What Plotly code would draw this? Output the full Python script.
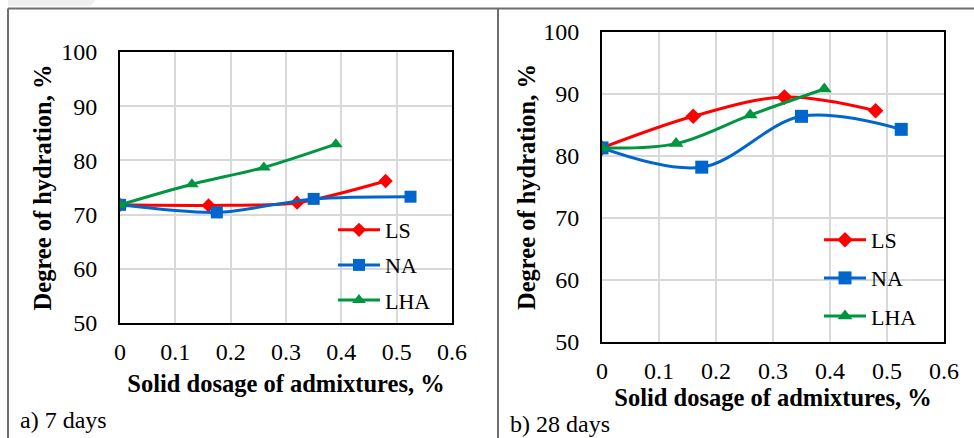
import plotly.graph_objects as go

# ---- data ----
x_ls = [0, 0.16, 0.32, 0.48]
x_na = [0, 0.175, 0.35, 0.525]
x_lha = [0, 0.13, 0.26, 0.39]

ls_7 = [71.8, 71.7, 72.2, 76.2]
na_7 = [71.8, 70.4, 72.9, 73.3]
lha_7 = [71.8, 75.6, 78.7, 83.0]

ls_28 = [81.3, 86.4, 89.5, 87.3]
na_28 = [81.3, 78.2, 86.4, 84.3]
lha_28 = [81.3, 82.0, 86.6, 90.8]

x_ticks = [0, 0.1, 0.2, 0.3, 0.4, 0.5, 0.6]
x_tick_labels = ["0", "0.1", "0.2", "0.3", "0.4", "0.5", "0.6"]
y_ticks = [50, 60, 70, 80, 90, 100]

RED = "#FF0000"
BLUE = "#0066CC"
GREEN = "#009640"
FONT = "Liberation Serif"
W, H = 974, 438

series = [
    ("LS", x_ls, ls_7, ls_28, RED, "diamond", 11),
    ("NA", x_na, na_7, na_28, BLUE, "square", 12),
    ("LHA", x_lha, lha_7, lha_28, GREEN, "triangle-up", 12),
]

fig = go.Figure()
for name, xs, y7, y28, col, sym, ms in series:
    fig.add_trace(go.Scatter(
        x=xs, y=y7, name=name, mode="lines+markers",
        line=dict(color=col, width=3, shape="spline", smoothing=0.8),
        marker=dict(symbol=sym, size=ms, color=col),
        xaxis="x", yaxis="y", legend="legend", legendgroup="a" + name))
    fig.add_trace(go.Scatter(
        x=xs, y=y28, name=name, mode="lines+markers",
        line=dict(color=col, width=3, shape="spline", smoothing=1.0),
        marker=dict(symbol=sym, size=ms + 1, color=col),
        xaxis="x2", yaxis="y2", legend="legend2", legendgroup="b" + name))

def px(x):
    return x / W

def py(y):
    return 1 - y / H

axis_common = dict(
    showgrid=True, gridcolor="#D9D9D9", gridwidth=1.5,
    showline=True, linecolor="black", linewidth=1.8, mirror=True,
    zeroline=False, ticks="", automargin=False,
    tickfont=dict(family=FONT, size=24, color="black"),
)

xtitle = dict(text="<b>Solid dosage of admixtures, %</b>",
              font=dict(family=FONT, size=24.5, color="black"))
ytitle = dict(text="<b>Degree of hydration, %</b>",
              font=dict(family=FONT, size=24.5, color="black"))

fig.update_layout(
    width=W, height=H,
    margin=dict(l=0, r=0, t=0, b=0, autoexpand=False),
    paper_bgcolor="white", plot_bgcolor="white",
    font=dict(family=FONT, color="black"),
    xaxis=dict(domain=[px(120), px(452)], range=[0, 0.6], anchor="y",
               tickvals=x_ticks, ticktext=x_tick_labels,
               ticklabelstandoff=6, title=dict(**xtitle, standoff=11),
               **axis_common),
    yaxis=dict(domain=[py(323), py(52)], range=[50, 100], anchor="x",
               tickvals=y_ticks, ticklabelstandoff=16,
               title=dict(**ytitle, standoff=3), **axis_common),
    xaxis2=dict(domain=[px(602), px(944)], range=[0, 0.6], anchor="y2",
                tickvals=x_ticks, ticktext=x_tick_labels,
                ticklabelstandoff=6, title=dict(**xtitle, standoff=2),
                **axis_common),
    yaxis2=dict(domain=[py(342), py(32)], range=[50, 100], anchor="x2",
                tickvals=y_ticks, ticklabelstandoff=16,
                title=dict(**ytitle, standoff=1), **axis_common),
    legend=dict(x=px(333), y=py(209), xanchor="left", yanchor="top",
                bgcolor="rgba(0,0,0,0)", tracegroupgap=3.5, itemwidth=42,
                font=dict(family=FONT, size=22, color="black")),
    legend2=dict(x=px(819), y=py(219), xanchor="left", yanchor="top",
                 bgcolor="rgba(0,0,0,0)", tracegroupgap=6.5, itemwidth=42,
                 font=dict(family=FONT, size=22, color="black")),
    showlegend=True,
)

# panel frames
border = dict(color="#6E6E6E", width=2)
fig.add_shape(type="line", xref="paper", yref="paper",
              x0=px(8), x1=1, y0=py(8.5), y1=py(8.5), line=border)
fig.add_shape(type="line", xref="paper", yref="paper",
              x0=px(8), x1=px(8), y0=py(8.5), y1=0, line=border)
fig.add_shape(type="line", xref="paper", yref="paper",
              x0=px(498), x1=px(498), y0=py(8.5), y1=0, line=border)
# faint watermark band at top-left
fig.add_shape(type="path", xref="paper", yref="paper",
              path=f"M {px(8)},{py(0)} L {px(96)},{py(0)} L {px(90)},{py(6)} L {px(8)},{py(6)} Z",
              fillcolor="#EFEFEF", line=dict(width=0), layer="below")

fig.add_annotation(text="a) 7 days", xref="paper", yref="paper",
                   x=px(18), y=py(420), xanchor="left", yanchor="middle",
                   showarrow=False, font=dict(family=FONT, size=24, color="black"))
fig.add_annotation(text="b) 28 days", xref="paper", yref="paper",
                   x=px(508), y=py(424), xanchor="left", yanchor="middle",
                   showarrow=False, font=dict(family=FONT, size=24, color="black"))

fig.write_html("out.html")
